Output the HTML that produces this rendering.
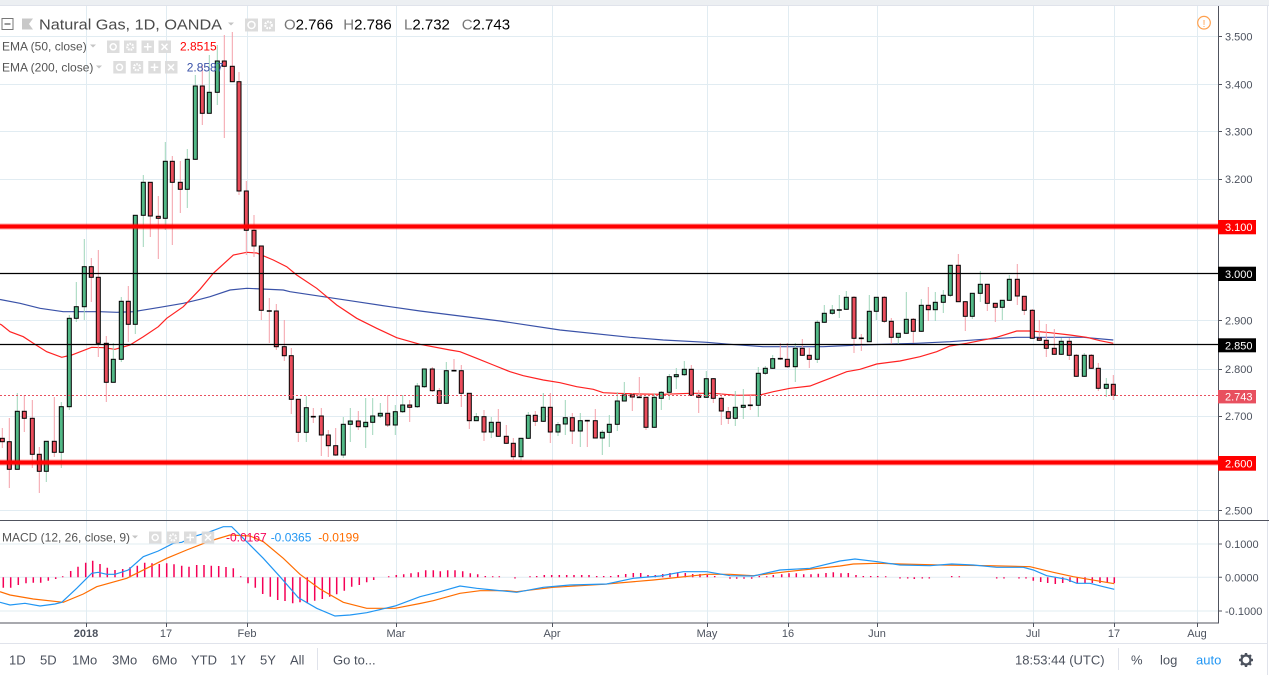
<!DOCTYPE html>
<html><head><meta charset="utf-8"><style>
html,body{margin:0;padding:0;background:#fff;width:1269px;height:675px;overflow:hidden}
svg{display:block;font-family:"Liberation Sans",Arial,sans-serif}
</style></head><body>
<svg width="1269" height="675" viewBox="0 0 1269 675" xmlns="http://www.w3.org/2000/svg">
<defs><clipPath id="mp"><rect x="0" y="5" width="1218" height="515"/></clipPath><clipPath id="mc"><rect x="0" y="521" width="1218" height="102"/></clipPath></defs>
<rect x="0" y="0" width="1269" height="675" fill="#fff"/>
<rect x="0" y="0" width="1269" height="5" fill="#eceff2"/>
<line x1="0" y1="5.5" x2="1269" y2="5.5" stroke="#e0e3eb"/>
<line x1="1267.5" y1="5" x2="1267.5" y2="675" stroke="#e0e3eb"/>
<!-- grid -->
<g stroke="#e1ecf2" stroke-width="1">
<path d="M0 36.5H1218M0 84.5H1218M0 131.5H1218M0 179.5H1218M0 227.5H1218M0 273.5H1218M0 320.5H1218M0 369.5H1218M0 416.5H1218M0 463.5H1218M0 510.5H1218"/>
<path d="M0 544H1218M0 577.3H1218M0 611H1218"/>
<path d="M86.5 6V623M166.5 6V623M247.5 6V623M396.5 6V623M552.5 6V623M707.5 6V623M788.5 6V623M877.5 6V623M1033.5 6V623M1114.5 6V623M1197.5 6V623"/>
</g>
<g clip-path="url(#mp)">
<!-- EMAs -->
<path fill="none" stroke="#3a52a8" stroke-width="1.2" d="M0 299.5 L20 303.3 L40 308.3 L63.3 311.7 L100 311.7 L116.7 312.3 L133.3 311.7 L160 307.3 L183.3 303.3 L200 299.3 L210 296.7 L230 290 L246.7 288.3 L283.3 290 L290 291.7 L323.3 296.7 L356.7 301.7 L390 306.7 L420 311 L500 321 L560 330 L630 337.3 L663.3 340 L706.7 342.3 L730 344.3 L763.3 346.7 L796.7 346.7 L823.3 346.7 L860 345 L916.7 343.3 L950 341.7 L983.3 339.3 L1016.7 337.3 L1083.3 337.3 L1113.3 340"/>
<path fill="none" stroke="#f22" stroke-width="1.2" d="M0 324 L1.7 325 L10 331.7 L23.3 336.7 L33.3 343.3 L46.7 351.7 L61.7 357.3 L71.7 355 L91.7 347.3 L103.3 347.7 L115 349.3 L130 345 L143.3 336.7 L158.3 326.7 L166.7 318.3 L183.3 306.7 L200 289.3 L213.3 273.3 L233.3 255 L246.7 252.3 L256.7 253 L273.3 260 L286.7 266.7 L296.7 275 L316.7 288.3 L336.7 305 L356.7 318.3 L376.7 328.3 L396.7 337.7 L420 344.3 L450 350 L460 351.7 L476.7 358.3 L493.3 365 L510 371.7 L523.3 375.7 L543.3 380 L560 382.7 L576.7 386.7 L593.3 389.3 L603.3 392.7 L616.7 393.3 L640 394 L663.3 394.3 L690 393.3 L713.3 393.3 L736.7 395.3 L760 395 L773.3 391.7 L790 388.3 L810 386 L830 378.3 L846.7 371.7 L860 369.3 L876.7 364 L900 361 L920 356.7 L936.7 351.7 L950 346 L966.7 343.3 L996.7 337.3 L1016.7 331 L1031.7 331 L1050 332.7 L1070 335 L1086.7 337.3 L1100 340.7 L1113.3 343.3"/>
<!-- wicks -->
<path fill="none" stroke="#f4a0a9" stroke-width="1" d="M2.3 428V448 M9.3 418V488 M24.3 395V432 M32.3 400V468 M39.3 447V493 M54.3 397V457 M91.3 258V302 M98.3 250V357 M106.3 336V402 M128.3 286V342 M150.3 182V237 M158.3 196V259 M172.3 156V245 M180.3 161V213 M202.3 65V125 M224.3 35V138 M232.3 32V82 M239 72V195 M246.3 181V255 M254 215V257 M261.3 246V320 M269.3 298V343 M276.3 304V350 M284.3 320V361 M291.3 348V414 M298.3 399V442 M313.3 408V423 M321.3 408V456 M328.3 430V457 M335.7 428V456 M358.3 411V430 M387.7 395V427 M409.7 400V422 M432.3 367V392 M439.3 388V404 M454 359V371 M461.3 365V407 M469.3 393V429 M484 410V441 M498.3 409V437 M506.3 425V444 M513.3 438V460 M535.3 411V426 M550.3 393V443 M572.3 413V444 M587.3 421V447 M595.3 409V438 M632.3 393V411 M639.3 377V398 M646 397V430 M691.3 365V396 M698.7 390V413 M713.3 378V403 M721.3 393V425 M728.3 407V424 M750.3 395V410 M780.3 343V360 M787.3 343V368 M802.3 339V356 M809.3 348V368 M854 296V353 M861.3 334V351 M884.3 296V323 M891.3 318V345 M913.3 318V343 M928.3 287V321 M958.3 254V302 M965.3 301V331 M987.3 284V311 M995.3 303V322 M1017.3 264V305 M1024.3 296V315 M1032.3 309V339 M1039.3 320V341 M1046.3 324V357 M1054.3 329V355 M1069.3 338V360 M1076.3 354V377 M1091.3 354V369 M1098.3 363V391 M1113.3 375V400"/>
<path fill="none" stroke="#9fd6bb" stroke-width="1" d="M17.3 393V469 M46.3 441V482 M61.3 402V468 M69.3 315V410 M76.3 282V322 M84.3 239V320 M113.3 343V382 M121.3 297V362 M135.3 215V334 M143.3 175V247 M165.3 142V230 M187.3 149V208 M195.3 75V160 M209.3 55V113 M217.3 45V105 M306.3 396V442 M343.3 417V458 M350.3 408V442 M365.7 398V448 M372.7 398V435 M380.3 403V418 M395.3 405V435 M402.7 395V413 M417.3 383V408 M424.3 369V388 M446.3 362V404 M476.3 413V421 M491.3 417V438 M521 438V463 M528.3 412V439 M543.3 393V422 M558 422V436 M565.3 400V435 M580.3 413V447 M602.3 430V455 M609.3 415V447 M617.3 392V431 M624.3 382V401 M654.3 393V428 M661.3 391V410 M669.3 374V400 M676.3 368V389 M684.3 361V376 M706.3 371V398 M735.3 391V426 M743.3 389V419 M758.3 367V417 M765.3 366V375 M772.7 355V369 M795.3 343V382 M817.3 320V363 M824.3 305V323 M832.3 305V315 M839.3 295V318 M846.3 291V310 M869.3 295V342 M876.3 297V320 M898.3 333V345 M906.3 292V334 M921.3 299V332 M935.3 292V321 M943.3 290V313 M950.3 265V297 M972.3 293V319 M980.3 271V302 M1002.3 300V320 M1009.3 275V301 M1061.3 338V355 M1084.3 353V377 M1106.3 378V397"/>
<!-- red bodies -->
<g fill="#eb4d5c" stroke="#000" stroke-width="1">
<rect x="0.3" y="438.3" width="4" height="3.4"/><rect x="7.3" y="441.7" width="4" height="27.6"/><rect x="22.3" y="411.3" width="4" height="7"/><rect x="30.3" y="418.3" width="4" height="36"/><rect x="37.3" y="454.3" width="4" height="17"/><rect x="52.3" y="441.3" width="4" height="11"/><rect x="89.3" y="266.7" width="4" height="10.6"/><rect x="96.3" y="277.3" width="4" height="66"/><rect x="104.3" y="343.3" width="4" height="39"/><rect x="126.3" y="301.3" width="4" height="23"/><rect x="148.3" y="182.3" width="4" height="33.7"/><rect x="156.3" y="216.3" width="4" height="2"/><rect x="170.3" y="161.3" width="4" height="21"/><rect x="178.3" y="182.3" width="4" height="7"/><rect x="200.3" y="86" width="4" height="27.3"/><rect x="222.3" y="61" width="4" height="5.3"/><rect x="230.3" y="66.3" width="4" height="15.4"/><rect x="237" y="81.7" width="4" height="109.3"/><rect x="244.3" y="191" width="4" height="39.3"/><rect x="252" y="230.3" width="4" height="15.7"/><rect x="259.3" y="246" width="4" height="64.3"/><rect x="274.3" y="311" width="4" height="35.7"/><rect x="282.3" y="346.7" width="4" height="9"/><rect x="289.3" y="355.7" width="4" height="43.6"/><rect x="296.3" y="399.3" width="4" height="33"/><rect x="319.3" y="416" width="4" height="19"/><rect x="326.3" y="435" width="4" height="10.7"/><rect x="333.7" y="445.7" width="4" height="9.3"/><rect x="356.3" y="421" width="4" height="5.7"/><rect x="385.7" y="413.3" width="4" height="11.7"/><rect x="407.7" y="405" width="4" height="2.3"/><rect x="430.3" y="369" width="4" height="21.7"/><rect x="437.3" y="390.7" width="4" height="12.6"/><rect x="459.3" y="370.7" width="4" height="22.6"/><rect x="467.3" y="393.3" width="4" height="27.4"/><rect x="482" y="416.7" width="4" height="15.3"/><rect x="496.3" y="422.3" width="4" height="14"/><rect x="504.3" y="436.3" width="4" height="7"/><rect x="511.3" y="443.3" width="4" height="13.4"/><rect x="533.3" y="415.3" width="4" height="6"/><rect x="548.3" y="407.3" width="4" height="24.7"/><rect x="570.3" y="417.7" width="4" height="13.3"/><rect x="593.3" y="420.7" width="4" height="17.3"/><rect x="630.3" y="395" width="4" height="2"/><rect x="644" y="397.3" width="4" height="30"/><rect x="689.3" y="369.3" width="4" height="26"/><rect x="696.7" y="395.3" width="4" height="2"/><rect x="711.3" y="378.7" width="4" height="19.6"/><rect x="719.3" y="398.3" width="4" height="12.7"/><rect x="726.3" y="411.7" width="4" height="6.6"/><rect x="785.3" y="359.3" width="4" height="7.4"/><rect x="800.3" y="348.3" width="4" height="7"/><rect x="807.3" y="355.3" width="4" height="4"/><rect x="852" y="297.3" width="4" height="41"/><rect x="882.3" y="297.3" width="4" height="24"/><rect x="889.3" y="321.3" width="4" height="16"/><rect x="911.3" y="319.3" width="4" height="12"/><rect x="926.3" y="305.3" width="4" height="4.4"/><rect x="956.3" y="265.3" width="4" height="36.4"/><rect x="963.3" y="301.7" width="4" height="14.6"/><rect x="985.3" y="284.3" width="4" height="19"/><rect x="993.3" y="303.3" width="4" height="4"/><rect x="1015.3" y="279.3" width="4" height="16.7"/><rect x="1022.3" y="296.3" width="4" height="14"/><rect x="1030.3" y="310.3" width="4" height="28"/><rect x="1037.3" y="338" width="4" height="2.3"/><rect x="1044.3" y="340.3" width="4" height="8"/><rect x="1052.3" y="348.3" width="4" height="6"/><rect x="1067.3" y="341.3" width="4" height="14"/><rect x="1074.3" y="355.3" width="4" height="21"/><rect x="1089.3" y="355.3" width="4" height="13"/><rect x="1096.3" y="368.3" width="4" height="20"/><rect x="1111.3" y="384.3" width="4" height="11"/>
</g>
<!-- green bodies -->
<g fill="#53b987" stroke="#000" stroke-width="1">
<rect x="15.3" y="411.3" width="4" height="58"/><rect x="44.3" y="441.3" width="4" height="30"/><rect x="59.3" y="406.7" width="4" height="45.6"/><rect x="67.3" y="318.3" width="4" height="88.4"/><rect x="74.3" y="306.7" width="4" height="11.6"/><rect x="82.3" y="266.7" width="4" height="40"/><rect x="111.3" y="359.3" width="4" height="23"/><rect x="119.3" y="301.3" width="4" height="58"/><rect x="133.3" y="215.3" width="4" height="109"/><rect x="141.3" y="182.3" width="4" height="33"/><rect x="163.3" y="161.3" width="4" height="57"/><rect x="185.3" y="159.3" width="4" height="30"/><rect x="193.3" y="86" width="4" height="73.3"/><rect x="207.3" y="92.3" width="4" height="21"/><rect x="215.3" y="61" width="4" height="31.3"/><rect x="304.3" y="407.7" width="4" height="24.6"/><rect x="341.3" y="424.3" width="4" height="30.7"/><rect x="348.3" y="421" width="4" height="3.3"/><rect x="363.7" y="422.3" width="4" height="4.4"/><rect x="370.7" y="416" width="4" height="6.3"/><rect x="378.3" y="413.3" width="4" height="2.7"/><rect x="393.3" y="411.7" width="4" height="13.3"/><rect x="400.7" y="405" width="4" height="6.7"/><rect x="415.3" y="386" width="4" height="20.7"/><rect x="422.3" y="369" width="4" height="17.7"/><rect x="444.3" y="370.7" width="4" height="32.6"/><rect x="474.3" y="416.7" width="4" height="4"/><rect x="489.3" y="422.3" width="4" height="9.7"/><rect x="519" y="438.3" width="4" height="18.4"/><rect x="526.3" y="415.3" width="4" height="23"/><rect x="541.3" y="407.3" width="4" height="14"/><rect x="556" y="424.7" width="4" height="7.3"/><rect x="563.3" y="417.7" width="4" height="6.3"/><rect x="578.3" y="420.7" width="4" height="10.3"/><rect x="600.3" y="432.3" width="4" height="5.7"/><rect x="607.3" y="424.3" width="4" height="8"/><rect x="615.3" y="401" width="4" height="23.3"/><rect x="622.3" y="395" width="4" height="6"/><rect x="652.3" y="397.3" width="4" height="30"/><rect x="659.3" y="392.3" width="4" height="6"/><rect x="667.3" y="376.7" width="4" height="15.6"/><rect x="674.3" y="374.7" width="4" height="2"/><rect x="682.3" y="369.3" width="4" height="5.4"/><rect x="704.3" y="378.7" width="4" height="18.6"/><rect x="733.3" y="407.3" width="4" height="11"/><rect x="741.3" y="405.3" width="4" height="2"/><rect x="756.3" y="373.3" width="4" height="32"/><rect x="763.3" y="368.3" width="4" height="5"/><rect x="770.7" y="358.7" width="4" height="9.6"/><rect x="793.3" y="348.3" width="4" height="18.4"/><rect x="815.3" y="322.3" width="4" height="37"/><rect x="822.3" y="313.3" width="4" height="9"/><rect x="830.3" y="310" width="4" height="3.3"/><rect x="844.3" y="297.3" width="4" height="12"/><rect x="867.3" y="311.3" width="4" height="30.4"/><rect x="874.3" y="297.3" width="4" height="14"/><rect x="896.3" y="333.3" width="4" height="4"/><rect x="904.3" y="319.3" width="4" height="14"/><rect x="919.3" y="305.3" width="4" height="26"/><rect x="933.3" y="302.3" width="4" height="7.4"/><rect x="941.3" y="295.3" width="4" height="7"/><rect x="948.3" y="265.3" width="4" height="30"/><rect x="970.3" y="293.3" width="4" height="23"/><rect x="978.3" y="284.3" width="4" height="9"/><rect x="1000.3" y="300.3" width="4" height="7"/><rect x="1007.3" y="279.3" width="4" height="21"/><rect x="1059.3" y="341.3" width="4" height="13"/><rect x="1082.3" y="355.3" width="4" height="21"/><rect x="1104.3" y="384.3" width="4" height="4"/>
</g>
<path stroke="#000" stroke-width="1.6" fill="none" d="M266.8 311h5M310.8 416.7h5M451.5 370.7h5M584.8 420.7h5M636.8 397.3h5M747.8 405.3h5M777.8 358.7h5M836.8 310h5M858.8 338.3h5"/>
<!-- horizontal levels -->
<line x1="0" y1="395.5" x2="1218" y2="395.5" stroke="#e8505f" stroke-width="1" stroke-dasharray="2,2"/>
<line x1="0" y1="273.5" x2="1218" y2="273.5" stroke="#000" stroke-width="1.2"/>
<line x1="0" y1="344.5" x2="1218" y2="344.5" stroke="#000" stroke-width="1.2"/>
<rect x="0" y="223.5" width="1218" height="6" fill="#ff0000" opacity="0.35"/>
<rect x="0" y="224.5" width="1218" height="4" fill="#ff0000"/>
<rect x="0" y="459.5" width="1218" height="6" fill="#ff0000" opacity="0.35"/>
<rect x="0" y="460.5" width="1218" height="4" fill="#ff0000"/>
</g>
<!-- MACD -->
<g clip-path="url(#mc)">
<path fill="none" stroke="#f50057" stroke-width="1.5" d="M3.3 577.3V587.7M10.7 577.3V587.7M18.3 577.3V585M26 577.3V583.3M33.3 577.3V582.7M40.7 577.3V582.7M48.3 577.3V580.7M55.7 577.3V579M62.7 577.3V576.2M70.7 577.3V571M78 577.3V566.7M85.7 577.3V562.7M92.7 577.3V560.7M100 577.3V564M107.3 577.3V567.7M115 577.3V570M122.7 577.3V569M130 577.3V567.3M137.3 577.3V565.7M144.7 577.3V562.7M152 577.3V563.3M159.3 577.3V564M166.7 577.3V563.3M174 577.3V564.3M181.7 577.3V565.7M189 577.3V566.7M196.7 577.3V565M204 577.3V565M211.3 577.3V565.7M218.7 577.3V566M226 577.3V567M233.3 577.3V568.3M240.7 577.3V576.2M248 577.3V583.3M255.3 577.3V587.7M262.7 577.3V594M270.3 577.3V596.7M277.7 577.3V600M285 577.3V601M292.7 577.3V603.3M300 577.3V602.3M307.3 577.3V603.3M314.7 577.3V600.7M322.3 577.3V599M329.7 577.3V596.7M336.7 577.3V594.3M344.3 577.3V590.7M351.7 577.3V586.7M359.3 577.3V585M366.7 577.3V582.3M373.7 577.3V580M388.7 577.3V576.2M396.3 577.3V575M403.7 577.3V574.3M411 577.3V573.3M418.3 577.3V572.3M425.7 577.3V570.3M433.3 577.3V570.3M440.3 577.3V571.3M447.7 577.3V570.3M455 577.3V570.3M462.7 577.3V571.3M470.3 577.3V573.3M477.7 577.3V574.3M485.3 577.3V576M492.7 577.3V576.2M499.3 577.3V576.2M515 577.3V578.5M530 577.3V576.2M536.7 577.3V576M544.3 577.3V575M551.7 577.3V575M559.3 577.3V575M566.7 577.3V575M574 577.3V575M581.7 577.3V575M589 577.3V575M596.7 577.3V576M603.7 577.3V576M610.7 577.3V576M618.3 577.3V575M625.7 577.3V574M633.3 577.3V573M640.7 577.3V573M648 577.3V575M655.3 577.3V575M662.7 577.3V574M670 577.3V573M677.7 577.3V572.3M685.3 577.3V573M692.7 577.3V574M700 577.3V574M707.3 577.3V575M714.7 577.3V576M730 577.3V578.7M736.7 577.3V578.7M744 577.3V578.7M751.7 577.3V578.7M759.3 577.3V576M766.7 577.3V576.2M773.3 577.3V575M781.7 577.3V574.3M789 577.3V573.3M796.3 577.3V573.3M803.7 577.3V574.3M811 577.3V574.3M818.3 577.3V573.7M826 577.3V573M833.3 577.3V572.3M841 577.3V573.3M848.3 577.3V573M856 577.3V575M863.3 577.3V576M870.7 577.3V576M877.7 577.3V576M885.7 577.3V576.2M900 577.3V578.5M907.7 577.3V578.5M914.3 577.3V579M922.3 577.3V578.5M929.3 577.3V578.5M951.7 577.3V576M959.3 577.3V576.2M996.7 577.3V578.5M1004 577.3V578.5M1019 577.3V578.5M1026 577.3V578.5M1033.3 577.3V580.7M1040.7 577.3V582M1047.7 577.3V583M1055.3 577.3V584M1062.7 577.3V583M1070 577.3V582M1077.3 577.3V583M1085 577.3V583M1092.3 577.3V583M1100 577.3V583M1107.3 577.3V582M1114.3 577.3V583"/>
<path fill="none" stroke="#ff6d00" stroke-width="1.2" d="M0 591.7 L10 595 L33.3 599 L63.3 602.3 L83.3 594 L96.7 586.7 L126.7 578.3 L146.7 568.3 L166.7 558.3 L186.7 550 L210 541 L230 535 L250 536 L263.3 541.7 L283.3 558.3 L300 574.3 L320 589 L343.3 602.3 L366.7 608.3 L395 608.3 L420 603.5 L433.3 600.7 L460 593.3 L480 590.7 L506.7 590.7 L516.7 591.7 L553.3 587.3 L603.3 584.3 L653.3 580 L706.7 574.3 L730 574.3 L753.3 575.7 L786.7 571.7 L840 566 L853.3 564 L877.3 563.3 L900 564 L940 565 L990 565.7 L1030 566.7 L1053.3 572.3 L1073.3 576.7 L1096.7 580.7 L1114.3 583.7"/>
<path fill="none" stroke="#2196f3" stroke-width="1.2" d="M0 602.3 L10 605 L25 603.3 L40 606 L55 604 L61.7 602.3 L76.7 588.3 L91.7 573.3 L98.3 572.3 L106.7 574.3 L115 574.3 L128.3 570 L143.3 556.7 L158.3 551 L173.3 543.3 L181.7 542.3 L196.7 535.7 L210 531.7 L223.3 526.7 L231.7 526.7 L246.7 541.7 L263.3 558.3 L280 576.7 L298.3 597.7 L316.7 608.3 L335 616 L350 615 L366.7 612.7 L395 606 L420 596.7 L440 591.7 L460 586 L476.7 588.3 L493.3 590 L516.7 592.3 L543.3 587.3 L570 585 L606.7 584 L633.3 578.3 L660 576 L683.3 571.7 L706.7 571.7 L730 575.7 L753.3 576 L780 570 L810 568.3 L840 561 L855 559 L877.3 561.7 L900 565 L930 565.7 L951.7 564 L973.3 565 L996.7 567.3 L1023.3 567.3 L1033.3 570 L1046.7 575.7 L1066.7 579.3 L1076.7 583.3 L1090 583.3 L1103.3 586.7 L1114.3 589.3"/>
</g>
<!-- frame lines -->
<line x1="1218.5" y1="6" x2="1218.5" y2="623" stroke="#50535e" stroke-width="1"/>
<line x1="0" y1="520.5" x2="1269" y2="520.5" stroke="#50535e" stroke-width="1"/>
<line x1="0" y1="623" x2="1219" y2="623" stroke="#50535e" stroke-width="1"/>
<line x1="0" y1="643.5" x2="1267" y2="643.5" stroke="#e0e3eb" stroke-width="1"/>
<path stroke="#50535e" d="M1218 36.5h4M1218 84.5h4M1218 131.5h4M1218 179.5h4M1218 320.5h4M1218 369.5h4M1218 416.5h4M1218 510.5h4M1218 544h4M1218 577.3h4M1218 611h4M86.5 623v4M166.5 623v4M247.5 623v4M396.5 623v4M552.5 623v4M707.5 623v4M788.5 623v4M877.5 623v4M1033.5 623v4M1114.5 623v4M1197.5 623v4"/>
<!-- price axis labels -->
<g font-size="11" fill="#4c525e">
<text x="1225" y="40.7">3.500</text><text x="1225" y="88.7">3.400</text><text x="1225" y="135.7">3.300</text><text x="1225" y="183">3.200</text><text x="1225" y="324.7">2.900</text><text x="1225" y="373">2.800</text><text x="1225" y="420">2.700</text><text x="1225" y="514.3">2.500</text>
<text x="1225" y="548">0.1000</text><text x="1225" y="581.3">0.0000</text><text x="1225" y="615">-0.1000</text>
</g>
<rect x="1218" y="220" width="38" height="14.3" fill="#ff0000"/>
<rect x="1218" y="266.7" width="38" height="14.3" fill="#000"/>
<rect x="1218" y="338.3" width="38" height="14" fill="#000"/>
<rect x="1218" y="390" width="38" height="13.4" fill="#e8505f"/>
<rect x="1218" y="456" width="38" height="14.7" fill="#ff0000"/>
<g font-size="11" fill="#fff">
<text x="1225" y="231.2">3.100</text><text x="1225" y="277.8">3.000</text><text x="1225" y="349.3">2.850</text><text x="1225" y="400.7">2.743</text><text x="1225" y="467.3">2.600</text>
</g>
<!-- time axis -->
<g font-size="11" fill="#4c525e" text-anchor="middle">
<text x="86" y="637" font-weight="bold">2018</text><text x="166" y="637">17</text><text x="247" y="637">Feb</text><text x="396" y="637">Mar</text><text x="552" y="637">Apr</text><text x="707" y="637">May</text><text x="788" y="637">16</text><text x="877" y="637">Jun</text><text x="1033" y="637">Jul</text><text x="1114" y="637">17</text><text x="1197" y="637">Aug</text>
</g>
<!-- legend title -->
<rect x="2" y="18.5" width="11" height="11" fill="#fff" stroke="#777" stroke-width="1"/>
<line x1="4.5" y1="24" x2="10.5" y2="24" stroke="#555" stroke-width="1.2"/>
<path d="M22 18.5h11l-4 5.5 4 5.5h-11z" fill="#c8c8c8"/>
<text x="39" y="29.3" font-size="15" fill="#4a4a4a" textLength="183" lengthAdjust="spacingAndGlyphs">Natural Gas, 1D, OANDA</text>
<path d="M228 22.5h6l-3 3z" fill="#c4c4c4"/>
<rect x="245" y="18.5" width="13" height="13" fill="#dcdcdc"/><rect x="262" y="18.5" width="13" height="13" fill="#dcdcdc"/>
<circle cx="251.5" cy="25" r="3.5" fill="none" stroke="#fff" stroke-width="1.5"/><circle cx="268.5" cy="25" r="3.3" fill="none" stroke="#fff" stroke-width="2.2" stroke-dasharray="1.8,1"/>
<g font-size="15"><text x="284" y="29.3" fill="#777">O<tspan fill="#000">2.766</tspan></text><text x="343.3" y="29.3" fill="#777">H<tspan fill="#000">2.786</tspan></text><text x="404" y="29.3" fill="#777">L<tspan fill="#000">2.732</tspan></text><text x="461.7" y="29.3" fill="#777">C<tspan fill="#000">2.743</tspan></text></g>
<!-- EMA legends -->
<g font-size="12" fill="#555">
<text x="2" y="50.5">EMA (50, close)</text>
<text x="2" y="71.3">EMA (200, close)</text>
<text x="2" y="541.5">MACD (12, 26, close, 9)</text>
</g>
<path d="M90 44.5h6l-3 3zM96 65.5h6l-3 3zM132 535.5h6l-3 3z" fill="#c4c4c4"/>
<g fill="#dcdcdc" opacity="0.95">
<rect x="107" y="40.5" width="12.5" height="12.5"/><rect x="124" y="40.5" width="12.5" height="12.5"/><rect x="141.5" y="40.5" width="12.5" height="12.5"/><rect x="158.5" y="40.5" width="12.5" height="12.5"/>
<rect x="113.3" y="61" width="12.5" height="12.5"/><rect x="130.7" y="61" width="12.5" height="12.5"/><rect x="148.3" y="61" width="12.5" height="12.5"/><rect x="165" y="61" width="12.5" height="12.5"/>
<rect x="149" y="531.5" width="12.5" height="12"/><rect x="166.7" y="531.5" width="12.5" height="12"/><rect x="184" y="531.5" width="12.5" height="12"/><rect x="201.7" y="531.5" width="12.5" height="12"/>
</g>
<g fill="none" stroke="#fff" stroke-width="1.5">
<circle cx="113.2" cy="46.8" r="3"/><circle cx="130.2" cy="46.8" r="3" stroke-width="2.2" stroke-dasharray="1.6,1"/><path d="M147.7 43v7.6M143.9 46.8h7.6M161.5 43.8l6 6M167.5 43.8l-6 6"/>
<circle cx="119.5" cy="67.3" r="3"/><circle cx="137" cy="67.3" r="3" stroke-width="2.2" stroke-dasharray="1.6,1"/><path d="M154.5 63.5v7.6M150.7 67.3h7.6M168 64.3l6 6M174 64.3l-6 6"/>
<circle cx="155.2" cy="537.5" r="3"/><circle cx="173" cy="537.5" r="3" stroke-width="2.2" stroke-dasharray="1.6,1"/><path d="M190.2 533.7v7.6M186.4 537.5h7.6M205 534.5l6 6M211 534.5l-6 6"/>
</g>
<text x="180" y="50.5" font-size="12" fill="#ff0000">2.8515</text>
<text x="186.7" y="71.3" font-size="12" fill="#3a52a8">2.8587</text>
<g font-size="12"><text x="226" y="541.5" fill="#f50057">-0.0167</text><text x="270.7" y="541.5" fill="#2196f3">-0.0365</text><text x="318.3" y="541.5" fill="#ff6d00">-0.0199</text></g>
<!-- warning icon -->
<circle cx="1204" cy="22.7" r="6.3" fill="none" stroke="#ffa04d" stroke-width="1.2"/>
<text x="1204" y="26.8" font-size="10" fill="#ffa04d" text-anchor="middle">!</text>
<!-- bottom toolbar -->
<g font-size="13" fill="#4c525e">
<text x="9" y="664.5">1D</text><text x="40" y="664.5">5D</text><text x="72" y="664.5">1Mo</text><text x="112" y="664.5">3Mo</text><text x="152" y="664.5">6Mo</text><text x="191" y="664.5">YTD</text><text x="230" y="664.5">1Y</text><text x="260" y="664.5">5Y</text><text x="290" y="664.5">All</text><text x="333" y="664.5">Go to...</text>
<text x="1015" y="664.5">18:53:44 (UTC)</text><text x="1131" y="664.5">%</text><text x="1160" y="664.5">log</text>
</g>
<text x="1196" y="664.5" font-size="13" fill="#2196f3">auto</text>
<line x1="317.5" y1="648" x2="317.5" y2="670" stroke="#e0e3eb"/>
<line x1="1118.5" y1="648" x2="1118.5" y2="670" stroke="#e0e3eb"/>
<g transform="translate(1246,660)" fill="#4c525e">
<circle r="4.5" fill="none" stroke="#4c525e" stroke-width="2.2"/>
<rect x="-1.2" y="-7" width="2.4" height="3"/><rect x="-1.2" y="4" width="2.4" height="3"/><rect x="-7" y="-1.2" width="3" height="2.4"/><rect x="4" y="-1.2" width="3" height="2.4"/>
<rect x="-1.2" y="-7" width="2.4" height="3" transform="rotate(45)"/><rect x="-1.2" y="4" width="2.4" height="3" transform="rotate(45)"/><rect x="-7" y="-1.2" width="3" height="2.4" transform="rotate(45)"/><rect x="4" y="-1.2" width="3" height="2.4" transform="rotate(45)"/>
</g>
</svg>
</body></html>
